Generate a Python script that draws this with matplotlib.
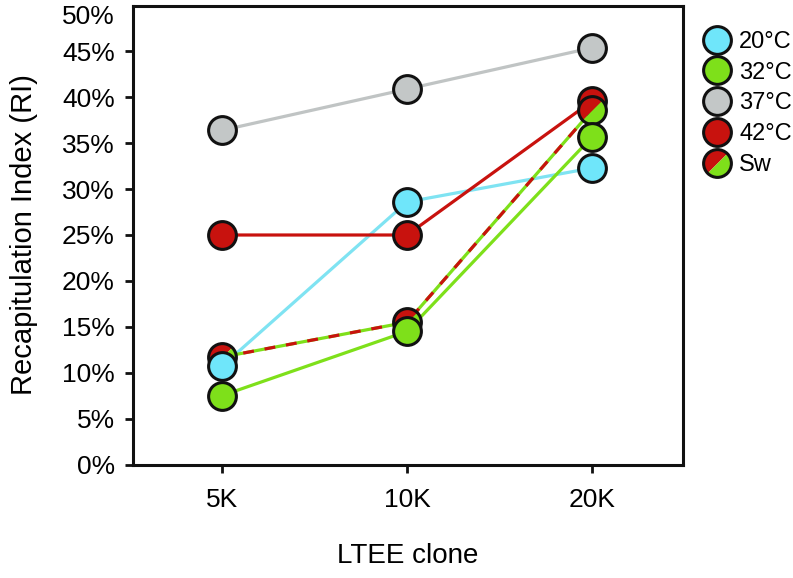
import matplotlib
matplotlib.use("Agg")
import matplotlib.pyplot as plt
from matplotlib.markers import MarkerStyle
from matplotlib.transforms import Affine2D
from matplotlib.lines import Line2D
from matplotlib.ticker import FuncFormatter

plt.rcParams['font.family'] = ['Liberation Sans', 'DejaVu Sans']

clones = ["5K", "10K", "20K"]
ri_20 = [10.7, 28.6, 32.3]
ri_32 = [7.5, 14.5, 35.7]
ri_37 = [36.4, 40.9, 45.4]
ri_42 = [25.0, 25.0, 39.6]
ri_sw = [11.7, 15.5, 38.6]

c_cyan = "#6FE6FA"
c_cyan_line = "#7FE3F2"
c_green = "#7EE01A"
c_gray = "#C3C7C7"
c_gray_line = "#C0C4C4"
c_red = "#C8120E"
c_edge = "#111111"

fig = plt.figure(figsize=(7.93, 5.78), dpi=100)
ax = fig.add_axes([133/793, 1-464.5/578, (683-133)/793, (464.5-5.5)/578])

x = list(range(len(clones)))
lw = 2.3
ms = 20
mew = 2.2

# lines
ax.plot(x, ri_37, color=c_gray_line, lw=lw, zorder=2)
ax.plot(x, ri_20, color=c_cyan_line, lw=lw, zorder=2)
ax.plot(x, ri_42, color=c_red, lw=lw, zorder=2)
ax.plot(x, ri_32, color=c_green, lw=lw, zorder=2)
ax.plot(x, ri_sw, color=c_green, lw=lw, zorder=2, solid_capstyle='butt')
ax.plot(x, ri_sw, color=c_red, lw=lw, zorder=2.1, dashes=(3.4, 3.4))

sw_marker = MarkerStyle('o', fillstyle='top', transform=Affine2D().rotate_deg(45))

# markers
ax.plot(x, ri_42, ls='none', marker='o', ms=ms, mfc=c_red, mec=c_edge, mew=mew, zorder=3)
ax.plot(x, ri_sw, ls='none', marker=sw_marker, ms=ms, mfc=c_red, mfcalt=c_green, mec='none', mew=0, zorder=4)
ax.plot(x, ri_sw, ls='none', marker='o', ms=ms, mfc='none', mec=c_edge, mew=mew, zorder=4.1)
ax.plot(x, ri_37, ls='none', marker='o', ms=ms, mfc=c_gray, mec=c_edge, mew=mew, zorder=5)
ax.plot(x, ri_32, ls='none', marker='o', ms=ms, mfc=c_green, mec=c_edge, mew=mew, zorder=5)
ax.plot(x, ri_20, ls='none', marker='o', ms=ms, mfc=c_cyan, mec=c_edge, mew=mew, zorder=6)

ax.set_xlim(-0.48, 2.49)
ax.set_ylim(0, 50)
ax.set_xticks(x)
ax.set_xticklabels(clones)
ax.set_yticks(range(0, 51, 5))
ax.yaxis.set_major_formatter(FuncFormatter(lambda v, p: f"{int(v)}%"))

for s in ax.spines.values():
    s.set_linewidth(2.2)
    s.set_color(c_edge)
ax.tick_params(axis='both', direction='out', length=6, width=2.0, color=c_edge,
               labelsize=19)
ax.tick_params(axis='x', pad=11)
ax.tick_params(axis='y', pad=7)
ax.yaxis.get_major_ticks()[-1].tick1line.set_visible(False)
fig.canvas.draw()
ax.get_yticklabels()[-1].set_va('top')

ax.set_ylabel("Recapitulation Index (RI)", fontsize=21, labelpad=17)
ax.set_xlabel("LTEE clone", fontsize=20, labelpad=22)

hs = 20
handles = [
    Line2D([], [], ls='none', marker='o', ms=hs, mfc=c_cyan, mec=c_edge, mew=mew),
    Line2D([], [], ls='none', marker='o', ms=hs, mfc=c_green, mec=c_edge, mew=mew),
    Line2D([], [], ls='none', marker='o', ms=hs, mfc=c_gray, mec=c_edge, mew=mew),
    Line2D([], [], ls='none', marker='o', ms=hs, mfc=c_red, mec=c_edge, mew=mew),
    (Line2D([], [], ls='none', marker=sw_marker, ms=hs, mfc=c_red, mfcalt=c_green, mec='none', mew=0),
     Line2D([], [], ls='none', marker='o', ms=hs, mfc='none', mec=c_edge, mew=mew)),
]
labels = ["20°C", "32°C", "37°C", "42°C", "Sw"]
fig.legend(handles, labels, loc='upper left', bbox_to_anchor=(705/793, 1-31/578),
           frameon=False, fontsize=17, handlelength=1.0, handletextpad=0.45,
           labelspacing=0.37, borderpad=0, borderaxespad=0)

fig.savefig("out.png", dpi=100)
